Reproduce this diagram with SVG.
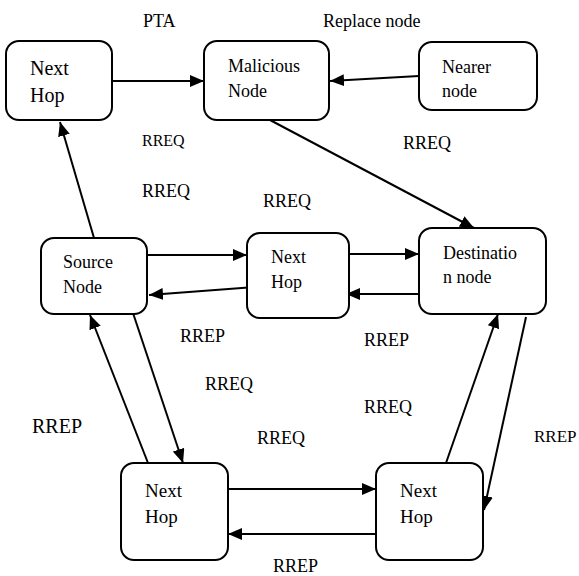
<svg xmlns="http://www.w3.org/2000/svg" width="579" height="576" viewBox="0 0 579 576">
<defs>
<marker id="ah" viewBox="0 0 14 12" refX="14" refY="6" markerWidth="14" markerHeight="12" markerUnits="userSpaceOnUse" orient="auto">
<path d="M0,0 L14,6 L0,12 z" fill="#000"/>
</marker>
</defs>
<style>
.box{fill:#fff;stroke:#000;stroke-width:2}
.t{font-family:'Liberation Serif','Times New Roman',Times,'DejaVu Serif',serif;font-size:18px;fill:#000}
.big{font-size:20px}
.mid{font-size:19px}
.sm{font-size:16px}
.c line{stroke:#000;stroke-width:2;marker-end:url(#ah)}
</style>
<rect width="579" height="576" fill="#fff"/>
<g class="c" id="connectors">
<line x1="112" y1="81" x2="204" y2="81"/>
<line x1="419" y1="76" x2="330" y2="81"/>
<line x1="94" y1="238" x2="60" y2="122"/>
<line x1="270" y1="120" x2="474" y2="228"/>
<line x1="147" y1="255" x2="247" y2="255"/>
<line x1="255" y1="287" x2="149" y2="295"/>
<line x1="349" y1="254" x2="419" y2="254"/>
<line x1="419" y1="294" x2="346" y2="294"/>
<line x1="133" y1="313" x2="183" y2="463"/>
<line x1="148" y1="463" x2="90" y2="315"/>
<line x1="228" y1="489" x2="376" y2="489"/>
<line x1="376" y1="534" x2="228" y2="534"/>
<line x1="446" y1="463" x2="498" y2="314"/>
<line x1="526" y1="317" x2="484" y2="510"/>
</g>
<g id="nextHopTop"><rect class="box" x="6" y="41" width="106" height="79" rx="13"/><text class="t big" x="30" y="75">Next</text><text class="t big" x="30" y="102">Hop</text></g>
<g id="malicious"><rect class="box" x="204" y="41" width="125" height="79" rx="13"/><text class="t" x="228" y="72">Malicious</text><text class="t" x="228" y="97">Node</text></g>
<g id="nearer"><rect class="box" x="419" y="42" width="118" height="68" rx="13"/><text class="t" x="442" y="73">Nearer</text><text class="t" x="442" y="97">node</text></g>
<g id="source"><rect class="box" x="41" y="238" width="106" height="76" rx="13"/><text class="t" x="63" y="268">Source</text><text class="t" x="63" y="293">Node</text></g>
<g id="nextHopMid"><rect class="box" x="247" y="233" width="102" height="85" rx="13"/><text class="t" x="271" y="263">Next</text><text class="t" x="271" y="288">Hop</text></g>
<g id="destination"><rect class="box" x="419" y="228" width="127" height="86" rx="13"/><text class="t" x="443" y="259">Destinatio</text><text class="t" x="443" y="283">n node</text></g>
<g id="nextHopBL"><rect class="box" x="121" y="463" width="107" height="97" rx="13"/><text class="t mid" x="145" y="497">Next</text><text class="t mid" x="145" y="523">Hop</text></g>
<g id="nextHopBR"><rect class="box" x="376" y="463" width="107" height="97" rx="13"/><text class="t mid" x="400" y="497">Next</text><text class="t mid" x="400" y="523">Hop</text></g>
<g id="labels">
<text class="t" x="143" y="27">PTA</text>
<text class="t" x="323" y="27">Replace node</text>
<text class="t sm" x="142" y="146">RREQ</text>
<text class="t" x="403" y="149">RREQ</text>
<text class="t" x="142" y="197">RREQ</text>
<text class="t" x="263" y="207">RREQ</text>
<text class="t" x="180" y="342">RREP</text>
<text class="t" x="364" y="346">RREP</text>
<text class="t" x="205" y="390">RREQ</text>
<text class="t big" x="32" y="433">RREP</text>
<text class="t" x="364" y="413">RREQ</text>
<text class="t" x="257" y="444">RREQ</text>
<text class="t" x="534" y="442" style="font-size:17px">RREP</text>
<text class="t" x="273" y="572">RREP</text>
</g>
</svg>
